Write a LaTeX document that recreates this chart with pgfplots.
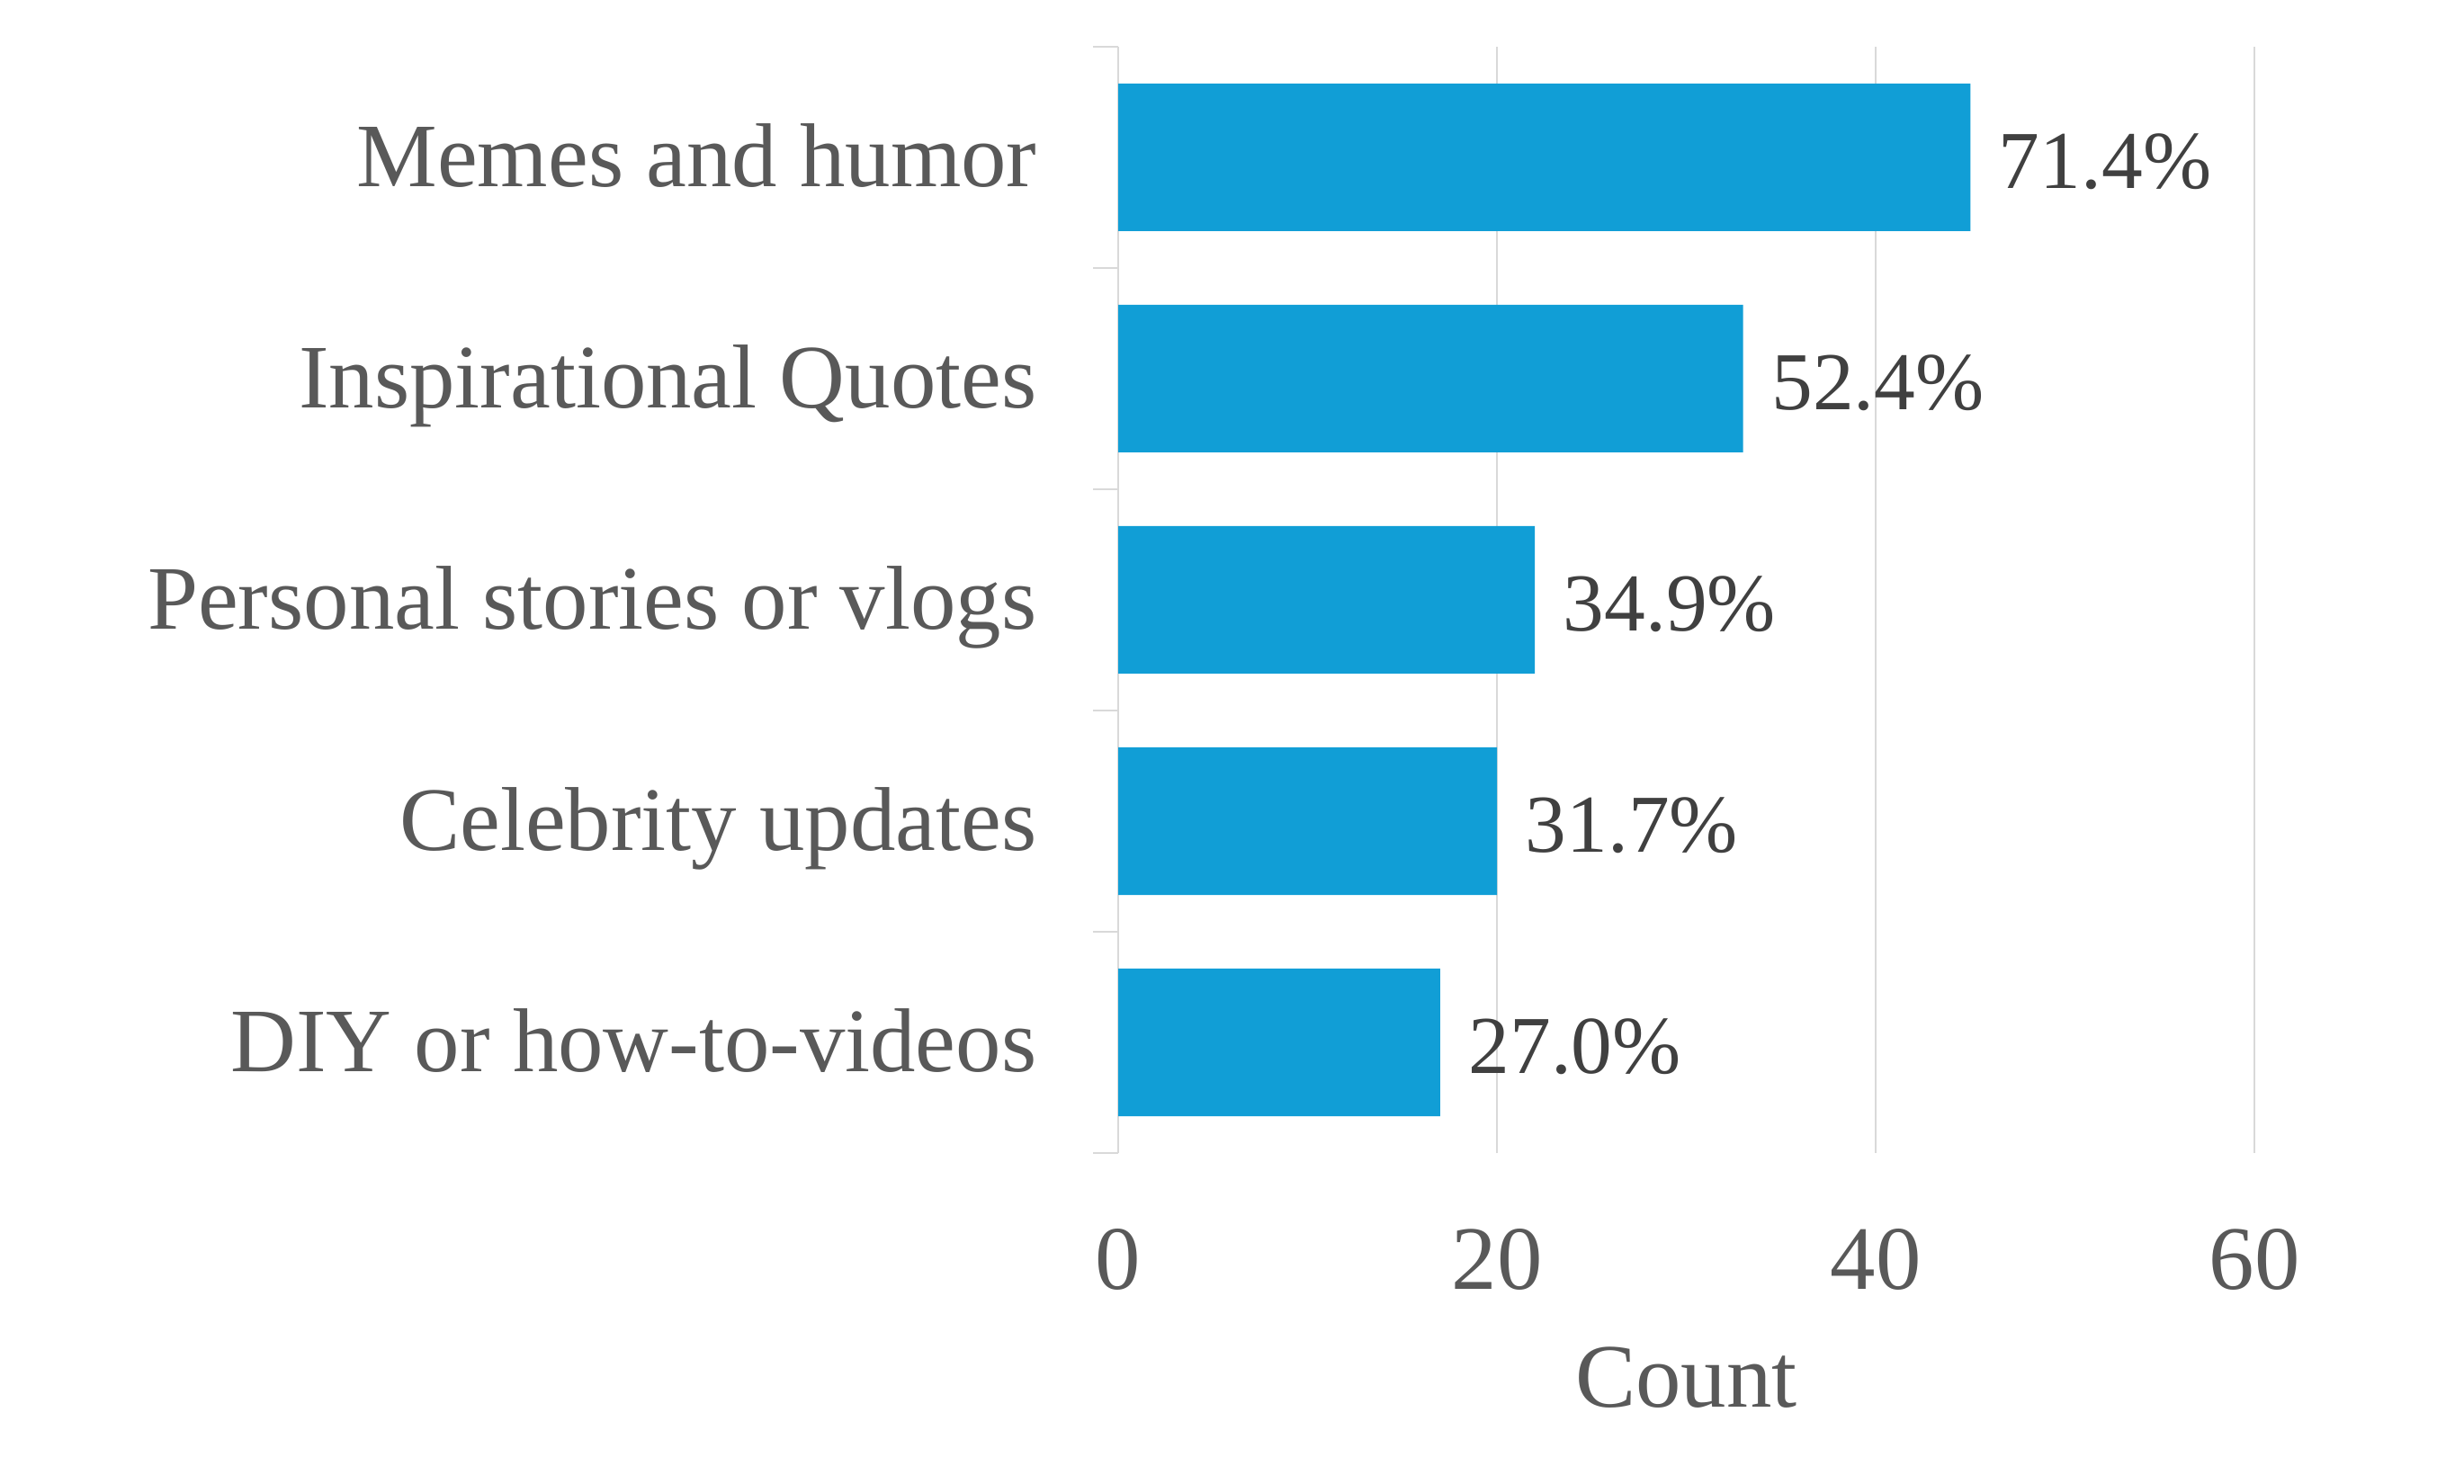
\documentclass[border=0pt]{standalone}
\usepackage{fontspec}
\setmainfont{Liberation Serif}
\usepackage{pgfplots}
\pgfplotsset{compat=1.18}
\usepackage{pgfplotstable}
\definecolor{barblue}{RGB}{17,158,214}
\definecolor{gridgray}{RGB}{217,217,217}
\definecolor{labgray}{RGB}{89,89,89}
\definecolor{valgray}{RGB}{64,64,64}
\newcommand\fs{\fontsize{28}{33.6}\selectfont}
\newcommand\fv{\fontsize{25.4}{30.5}\selectfont}

\pgfplotstableread{
y x pct
4 45 71.4
3 33 52.4
2 22 34.9
1 20 31.7
0 17 27.0
}\datatable

\begin{document}
\begin{tikzpicture}
\useasboundingbox (-345.3pt,-102.2pt) rectangle (415.5pt,356.1pt);
\begin{axis}[
  at={(0,0)}, anchor=south west,
  scale only axis, width=350.8pt, height=341.7pt,
  xmin=0, xmax=60, ymin=-0.5, ymax=4.5,
  axis line style={draw=none},
  xmajorgrids, grid style={gridgray, line width=0.6pt},
  xtick={0,20,40,60}, xticklabels={0,20,40,60},
  ytick={0,1,2,3,4},
  yticklabels={DIY or how-to-videos, Celebrity updates, Personal stories or vlogs, Inspirational Quotes, Memes and humor},
  minor ytick={-0.5,0.5,1.5,2.5,3.5,4.5},
  major tick length=0pt, minor tick length=7.8pt,
  tick align=outside, tick pos=left,
  minor tick style={gridgray, line width=0.6pt},
  xticklabel style={font=\fs, text=labgray, inner sep=0pt, yshift=-23.3pt},
  yticklabel style={font=\fs, text=labgray, anchor=base east, inner sep=0pt, xshift=-25pt, yshift=-9pt},
  xlabel={Count},
  every axis x label/.style={at={(axis description cs:0.5,0)}, anchor=north, yshift=-59.7pt, inner sep=0pt, font=\fs, text=labgray},
  every node near coord/.append style={font=\fv, text=valgray, anchor=base west, inner sep=0pt, xshift=8.6pt, yshift=-9.7pt},
]
\addplot[xbar, bar width=0.667, fill=barblue, draw=none,
  point meta=explicit,
  nodes near coords={\pgfmathprintnumber[fixed, fixed zerofill, precision=1, assume math mode=true]{\pgfplotspointmeta}\%}]
  table[x=x, y=y, meta=pct] {\datatable};
\end{axis}
\end{tikzpicture}
\end{document}
